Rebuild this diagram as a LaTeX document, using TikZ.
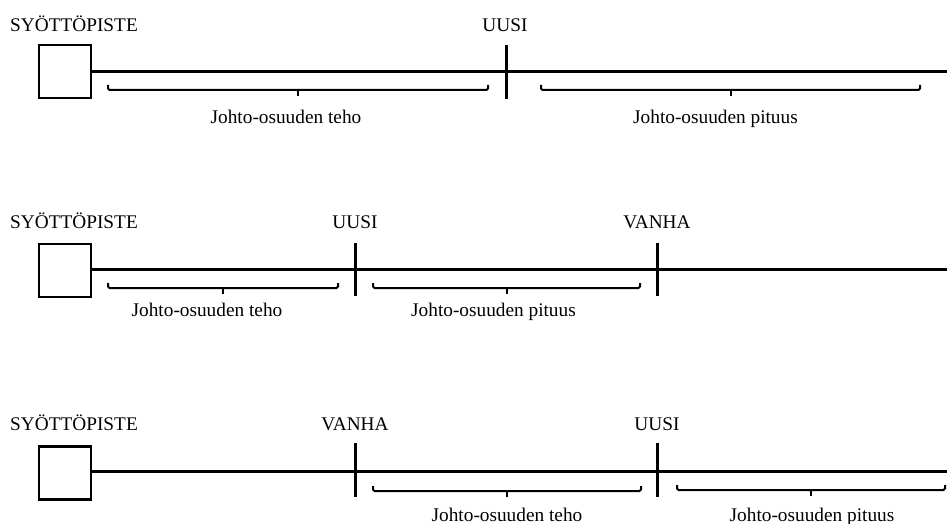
\documentclass[tikz,border=0pt]{standalone}
\usepackage{fontspec}
\setmainfont{Liberation Serif}
\tikzset{
  lbl/.style={inner sep=0pt, anchor=base, font=\fontsize{19.3}{23}\selectfont},
  feed/.style={draw, line width=2.6pt, minimum width=52pt, minimum height=53pt, inner sep=0pt},
  wire/.style={line width=3pt},
  tickmark/.style={line width=3pt},
  bracestyle/.style={line width=2pt, rounded corners=1.5pt},
}
\newcommand{\fbrace}[3]{%
  \draw[bracestyle] (#1,#3-5) -- (#1,#3) -- (#2,#3) -- (#2,#3-5);
  \draw[bracestyle] ({(#1+#2)/2},#3) -- ++(0,6);}
\begin{document}
\begin{tikzpicture}[x=1pt,y=-1pt]
\useasboundingbox (0,0) rectangle (947,524);
% ---------- Row 1 ----------
\node[lbl, anchor=base west] (s1) at (10,31.7) {SYÖTTÖPISTE};
\node[feed] (b1) at (65,71.5) {};
\coordinate (e1) at (947,72);
\draw[wire] (b1.east |- e1) -- (e1);
\coordinate (t1a) at (506.5,45); \coordinate (t1b) at (506.5,99);
\draw[tickmark] (t1a) -- (t1b);
\node[lbl] (u1) at (505,31.7) {UUSI};
\fbrace{108}{488}{90}
\fbrace{541}{920}{90}
\node[lbl] (l1a) at (286,124) {Johto-osuuden teho};
\node[lbl] (l1b) at (715.5,124) {Johto-osuuden pituus};
% ---------- Row 2 ----------
\node[lbl, anchor=base west] (s2) at (10,228) {SYÖTTÖPISTE};
\node[feed] (b2) at (65,270.5) {};
\coordinate (e2) at (947,269);
\draw[wire] (b2.east |- e2) -- (e2);
\coordinate (t2a) at (355,243); \coordinate (t2b) at (355,296);
\coordinate (t2c) at (657,243); \coordinate (t2d) at (657,296);
\draw[tickmark] (t2a) -- (t2b);
\draw[tickmark] (t2c) -- (t2d);
\node[lbl] (u2) at (355,228) {UUSI};
\node[lbl] (v2) at (657,228) {VANHA};
\fbrace{108}{338}{288}
\fbrace{373}{640}{288}
\node[lbl] (l2a) at (207,316) {Johto-osuuden teho};
\node[lbl] (l2b) at (493.5,316) {Johto-osuuden pituus};
% ---------- Row 3 ----------
\node[lbl, anchor=base west] (s3) at (10,430) {SYÖTTÖPISTE};
\node[feed] (b3) at (65,473) {};
\coordinate (e3) at (947,471.5);
\draw[wire] (b3.east |- e3) -- (e3);
\coordinate (t3a) at (355,443); \coordinate (t3b) at (355,497);
\coordinate (t3c) at (657,443); \coordinate (t3d) at (657,497);
\draw[tickmark] (t3a) -- (t3b);
\draw[tickmark] (t3c) -- (t3d);
\node[lbl] (v3) at (355,430) {VANHA};
\node[lbl] (u3) at (657,430) {UUSI};
\fbrace{373}{641}{491}
\fbrace{677}{945}{490}
\node[lbl] (l3a) at (507,521) {Johto-osuuden teho};
\node[lbl] (l3b) at (812,521) {Johto-osuuden pituus};
\end{tikzpicture}
\end{document}
